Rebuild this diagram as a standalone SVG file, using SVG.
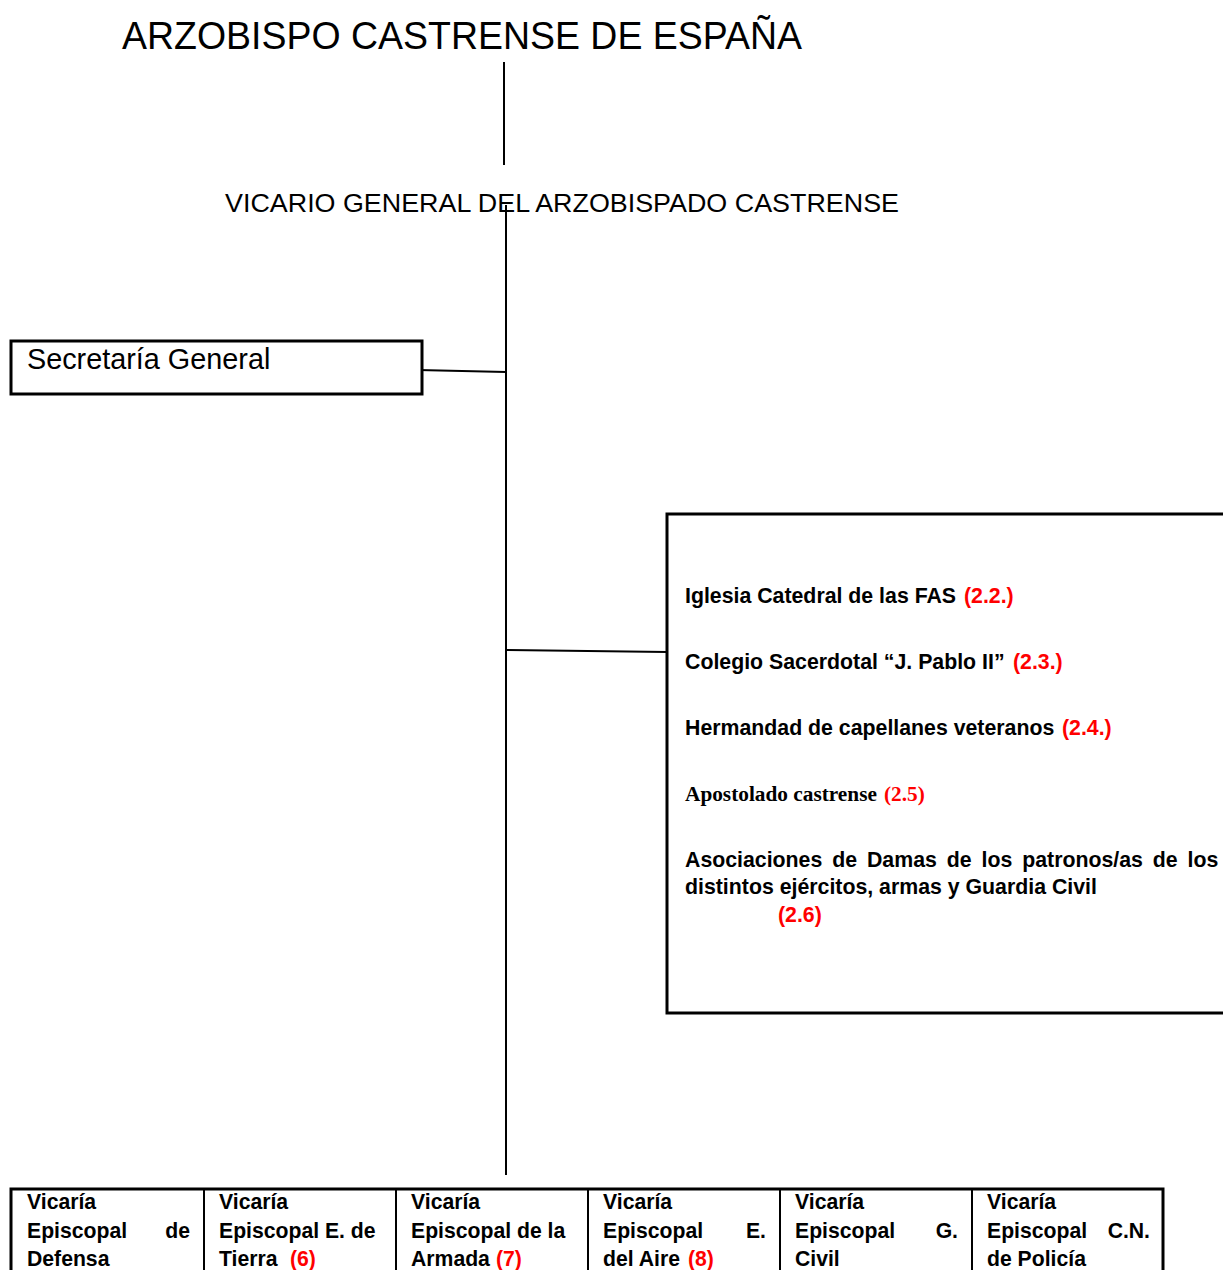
<svg xmlns="http://www.w3.org/2000/svg" width="1223" height="1270" viewBox="0 0 1223 1270">
<style>
.box{fill:#fff;stroke:#000;stroke-width:3}
.ln{stroke:#000;stroke-width:2;fill:none}
.sans{font-family:"Liberation Sans",Arial,sans-serif;fill:#000}
.b{font-family:"Liberation Sans",Arial,sans-serif;font-weight:bold;font-size:21.3px;fill:#000}
.tb{font-family:"Liberation Sans",Arial,sans-serif;font-weight:bold;font-size:21.2px;fill:#000}
.red{fill:#ff0000}
.serif{font-family:"Liberation Serif","Times New Roman",serif;font-weight:bold;font-size:21.3px;fill:#000}
</style>
<rect width="1223" height="1270" fill="#fff"/>
<g id="connectors">
<line class="ln" x1="504" y1="62" x2="504" y2="165"/>
<line class="ln" x1="506" y1="205" x2="506" y2="1175"/>
<line class="ln" x1="418" y1="370" x2="506" y2="372"/>
<line class="ln" x1="506" y1="650" x2="667" y2="652"/>
</g>
<g id="arzobispo">
<text class="sans" x="122" y="49" font-size="38" textLength="680" lengthAdjust="spacingAndGlyphs">ARZOBISPO CASTRENSE DE ESPAÑA</text>
</g>
<g id="vicario">
<text class="sans" x="225" y="212" font-size="26" textLength="674" lengthAdjust="spacingAndGlyphs">VICARIO GENERAL DEL ARZOBISPADO CASTRENSE</text>
</g>
<g id="secretaria">
<rect class="box" x="11" y="341" width="411" height="53"/>
<text class="sans" x="27" y="369" font-size="28.8">Secretaría General</text>
</g>
<g id="organismos">
<rect class="box" x="667" y="514" width="570" height="499"/>
<text class="b" x="685" y="603">Iglesia Catedral de las FAS <tspan class="red" x="964">(2.2.)</tspan></text>
<text class="b" x="685" y="669">Colegio Sacerdotal “J. Pablo II” <tspan class="red" x="1013">(2.3.)</tspan></text>
<text class="b" x="685" y="735">Hermandad de capellanes veteranos <tspan class="red" x="1062">(2.4.)</tspan></text>
<text class="serif" x="685" y="801">Apostolado castrense <tspan class="red" x="884">(2.5)</tspan></text>
<text class="b" x="685" y="867" word-spacing="4">Asociaciones de Damas de los patronos/as de los</text>
<text class="b" x="685" y="894">distintos ejércitos, armas y Guardia Civil</text>
<text class="b red" x="778" y="922">(2.6)</text>
</g>
<g id="vicarias">
<rect class="box" x="11" y="1189" width="1152" height="100"/>
<line class="ln" x1="204" y1="1189" x2="204" y2="1270" stroke-width="3"/>
<line class="ln" x1="396" y1="1189" x2="396" y2="1270" stroke-width="3"/>
<line class="ln" x1="588" y1="1189" x2="588" y2="1270" stroke-width="3"/>
<line class="ln" x1="780" y1="1189" x2="780" y2="1270" stroke-width="3"/>
<line class="ln" x1="972" y1="1189" x2="972" y2="1270" stroke-width="3"/>
</g>
<g id="vicaria-defensa">
<text class="tb" x="27" y="1209">Vicaría</text>
<text class="tb" x="27" y="1238">Episcopal</text>
<text class="tb" x="190" y="1238" text-anchor="end">de</text>
<text class="tb" x="27" y="1266">Defensa</text>
</g>
<g id="vicaria-tierra">
<text class="tb" x="219" y="1209">Vicaría</text>
<text class="tb" x="219" y="1238">Episcopal E. de</text>
<text class="tb" x="219" y="1266">Tierra <tspan class="red" x="290">(6)</tspan></text>
</g>
<g id="vicaria-armada">
<text class="tb" x="411" y="1209">Vicaría</text>
<text class="tb" x="411" y="1238">Episcopal de la</text>
<text class="tb" x="411" y="1266">Armada<tspan class="red" x="496">(7)</tspan></text>
</g>
<g id="vicaria-aire">
<text class="tb" x="603" y="1209">Vicaría</text>
<text class="tb" x="603" y="1238">Episcopal</text>
<text class="tb" x="766" y="1238" text-anchor="end">E.</text>
<text class="tb" x="603" y="1266">del Aire <tspan class="red" x="688">(8)</tspan></text>
</g>
<g id="vicaria-gc">
<text class="tb" x="795" y="1209">Vicaría</text>
<text class="tb" x="795" y="1238">Episcopal</text>
<text class="tb" x="958" y="1238" text-anchor="end">G.</text>
<text class="tb" x="795" y="1266">Civil</text>
</g>
<g id="vicaria-policia">
<text class="tb" x="987" y="1209">Vicaría</text>
<text class="tb" x="987" y="1238">Episcopal</text>
<text class="tb" x="1150" y="1238" text-anchor="end">C.N.</text>
<text class="tb" x="987" y="1266">de Policía</text>
</g>
</svg>
